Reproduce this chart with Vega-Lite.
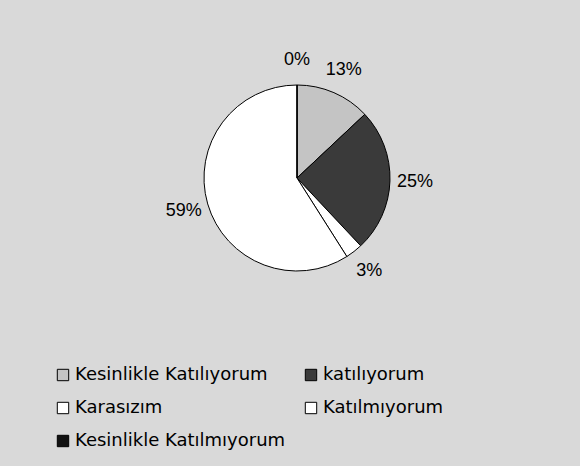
{
  "$schema": "https://vega.github.io/schema/vega-lite/v6.json",
  "autosize": {"type": "none"},
  "width": 186,
  "height": 186,
  "padding": {"left": 204, "top": 85, "right": 190, "bottom": 195},
  "background": "#d9d9d9",
  "config": {"view": {"stroke": null}, "font": "DejaVu Sans"},
  "data": {
    "values": [
      {"cat": "Kesinlikle Katılıyorum", "pct": 13, "ord": 1, "label": "13%"},
      {"cat": "katılıyorum", "pct": 25, "ord": 2, "label": "25%"},
      {"cat": "Karasızım", "pct": 3, "ord": 3, "label": "3%"},
      {"cat": "Katılmıyorum", "pct": 59, "ord": 4, "label": "59%"},
      {"cat": "Kesinlikle Katılmıyorum", "pct": 0, "ord": 5, "label": "0%"}
    ]
  },
  "encoding": {
    "theta": {"field": "pct", "type": "quantitative", "stack": true},
    "order": {"field": "ord", "type": "quantitative"}
  },
  "layer": [
    {
      "mark": {"type": "arc", "stroke": "black", "strokeWidth": 1, "outerRadius": 93},
      "encoding": {
        "color": {
          "field": "cat",
          "type": "nominal",
          "scale": {
            "domain": ["Kesinlikle Katılıyorum", "katılıyorum", "Karasızım", "Katılmıyorum", "Kesinlikle Katılmıyorum"],
            "range": ["#c4c4c4", "#3a3a3a", "#ffffff", "#ffffff", "#111111"]
          },
          "legend": {
            "title": null,
            "orient": "none",
            "direction": "horizontal",
            "legendX": -150,
            "legendY": 281,
            "columns": 2,
            "columnPadding": 16,
            "rowPadding": 15,
            "symbolType": "square",
            "symbolSize": 130,
            "symbolStrokeColor": "black",
            "symbolStrokeWidth": 1,
            "labelFontSize": 18,
            "labelFont": "DejaVu Sans",
            "labelColor": "black",
            "labelOffset": 3,
            "labelLimit": 300
          }
        }
      }
    },
    {
      "mark": {"type": "text", "radius": 118, "fontSize": 18, "font": "Liberation Sans", "color": "black", "align": "center", "baseline": "middle"},
      "encoding": {
        "text": {"field": "label", "type": "nominal"}
      }
    }
  ]
}
